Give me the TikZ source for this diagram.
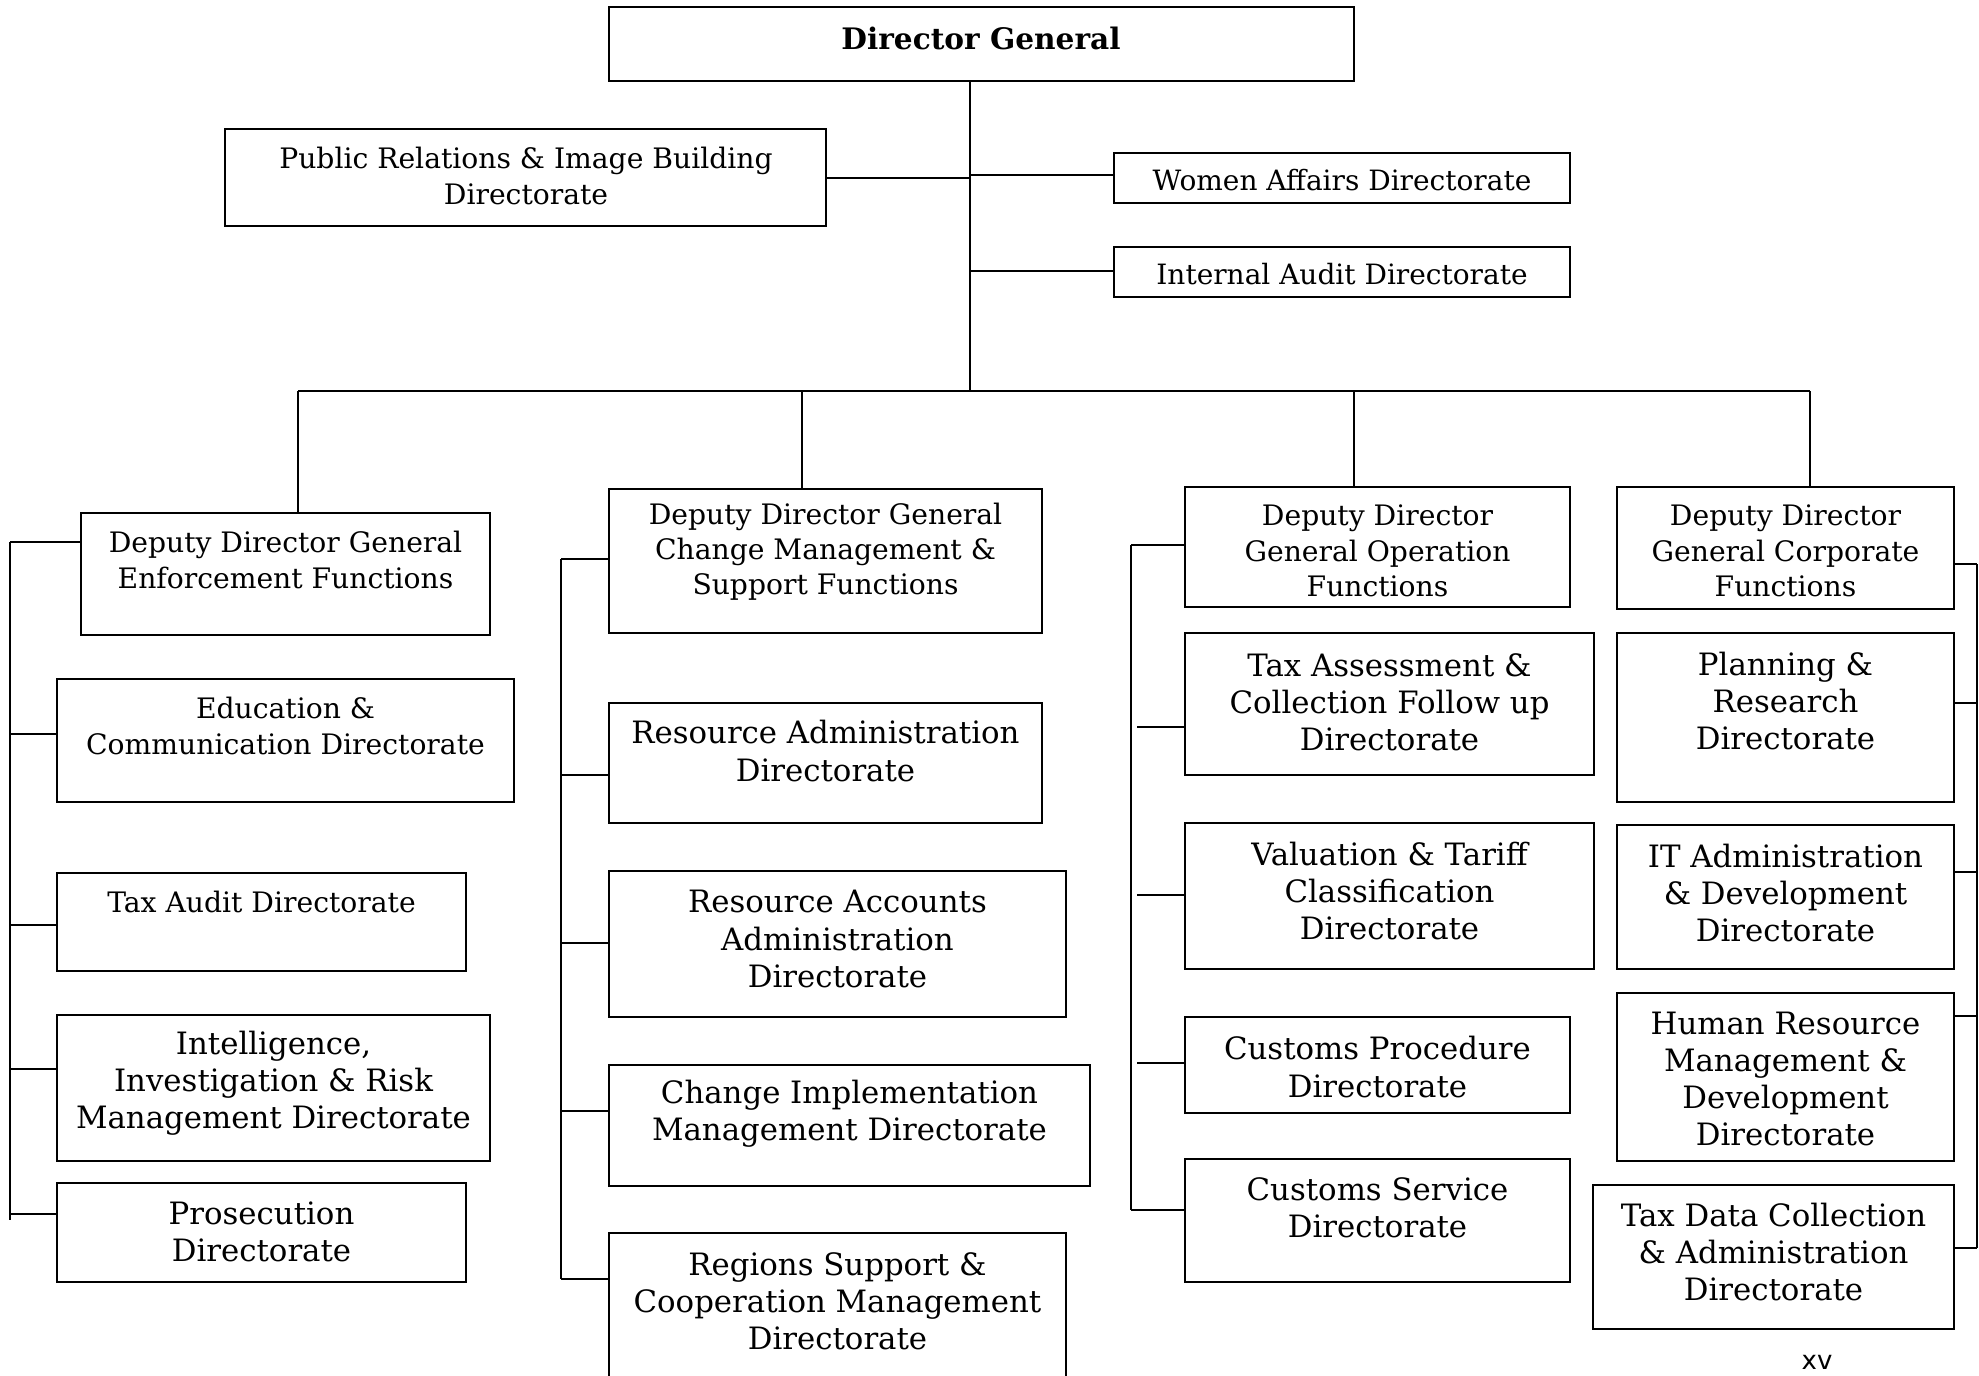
\documentclass[tikz,border=0pt]{standalone}
\usepackage{fontspec}
\setmainfont{DejaVu Serif}
\newfontfamily\pagenumfont{DejaVu Sans}
\usepackage{tikz}

\tikzset{
  unit/.style={draw, line width=0.9pt, inner sep=0pt},
  small/.style={align=center, inner sep=0pt, font=\fontsize{14.1}{17.6}\selectfont},
  large/.style={align=center, inner sep=0pt, font=\fontsize{15.4}{18.6}\selectfont},
  link/.style={line width=0.8pt}
}

\begin{document}
\begin{tikzpicture}[x=0.5pt, y=-0.5pt]
\useasboundingbox (0,0) rectangle (1979,1375);

% top level
\node[unit, minimum width=372.5pt, minimum height=37pt] (dg) at (981.5,44) {};
\node[small, font=\fontsize{14.8}{17.5}\selectfont\bfseries] (dg-t) at (981,38) {Director General};
\node[unit, minimum width=300.5pt, minimum height=48.5pt] (pr) at (525.5,177.5) {};
\node[small] (pr-t) at (526,176) {Public Relations \& Image Building\\Directorate};
\node[unit, minimum width=228pt, minimum height=25pt] (wa) at (1342,178) {};
\node[small, font=\fontsize{14}{17.5}\selectfont] (wa-t) at (1342,180) {Women Affairs Directorate};
\node[unit, minimum width=228pt, minimum height=25pt] (ia) at (1342,272) {};
\node[small, font=\fontsize{14}{17.5}\selectfont] (ia-t) at (1342,274) {Internal Audit Directorate};

% enforcement
\node[unit, minimum width=204.5pt, minimum height=61pt] (ddge) at (285.5,574) {};
\node[small] (ddge-t) at (285.5,560) {Deputy Director General\\Enforcement Functions};
\node[unit, minimum width=228.5pt, minimum height=61.5pt] (ed) at (285.5,740.5) {};
\node[small] (ed-t) at (285.5,726) {Education \&\\Communication Directorate};
\node[unit, minimum width=204.5pt, minimum height=49pt] (ta) at (261.5,922) {};
\node[small] (ta-t) at (261.5,902) {Tax Audit Directorate};
\node[unit, minimum width=216.5pt, minimum height=73pt] (iir) at (273.5,1088) {};
\node[large] (iir-t) at (273.5,1083) {Intelligence,\\Investigation \& Risk\\Management Directorate};
\node[unit, minimum width=204.5pt, minimum height=49.5pt] (pros) at (261.5,1232.5) {};
\node[large] (pros-t) at (261.5,1232) {Prosecution\\Directorate};

% change management
\node[unit, minimum width=216.5pt, minimum height=72pt] (ddgc) at (825.5,561) {};
\node[small] (ddgc-t) at (825.5,552) {Deputy Director General\\Change Management \&\\Support Functions};
\node[unit, minimum width=216.5pt, minimum height=60pt] (ra) at (825.5,763) {};
\node[large] (ra-t) at (825.5,751) {Resource Administration\\Directorate};
\node[unit, minimum width=228.5pt, minimum height=73pt] (raa) at (837.5,944) {};
\node[large] (raa-t) at (837.5,939) {Resource Accounts\\Administration\\Directorate};
\node[unit, minimum width=240.5pt, minimum height=60.5pt] (cim) at (849.5,1125.5) {};
\node[large] (cim-t) at (849.5,1114) {Change Implementation\\Management Directorate};
\node[unit, minimum width=228.5pt, minimum height=73.5pt] (rsc) at (837.5,1306.5) {};
\node[large] (rsc-t) at (837.5,1301) {Regions Support \&\\Cooperation Management\\Directorate};

% operation
\node[unit, minimum width=192.5pt, minimum height=60pt] (ddgo) at (1377.5,547) {};
\node[small] (ddgo-t) at (1377.5,551) {Deputy Director\\General Operation\\Functions};
\node[unit, minimum width=204.5pt, minimum height=71pt] (tacf) at (1389.5,704) {};
\node[large] (tacf-t) at (1389.5,702) {Tax Assessment \&\\Collection Follow up\\Directorate};
\node[unit, minimum width=204.5pt, minimum height=73pt] (vtc) at (1389.5,896) {};
\node[large] (vtc-t) at (1389.5,891) {Valuation \& Tariff\\Classification\\Directorate};
\node[unit, minimum width=192.5pt, minimum height=48pt] (cp) at (1377.5,1065) {};
\node[large] (cp-t) at (1377.5,1067) {Customs Procedure\\Directorate};
\node[unit, minimum width=192.5pt, minimum height=61.5pt] (cs) at (1377.5,1220.5) {};
\node[large] (cs-t) at (1377.5,1208) {Customs Service\\Directorate};

% corporate
\node[unit, minimum width=168.5pt, minimum height=61pt] (ddgk) at (1785.5,548) {};
\node[small] (ddgk-t) at (1785.5,551) {Deputy Director\\General Corporate\\Functions};
\node[unit, minimum width=168.5pt, minimum height=84.5pt] (prr) at (1785.5,717.5) {};
\node[large] (prr-t) at (1785.5,701) {Planning \&\\Research\\Directorate};
\node[unit, minimum width=168.5pt, minimum height=72pt] (itad) at (1785.5,897) {};
\node[large] (itad-t) at (1785.5,893) {IT Administration\\\& Development\\Directorate};
\node[unit, minimum width=168.5pt, minimum height=84pt] (hrmd) at (1785.5,1077) {};
\node[large] (hrmd-t) at (1785.5,1079) {Human Resource\\Management \&\\Development\\Directorate};
\node[unit, minimum width=180.5pt, minimum height=72pt] (tdc) at (1773.5,1257) {};
\node[large] (tdc-t) at (1773.5,1252) {Tax Data Collection\\\& Administration\\Directorate};

\node[font=\pagenumfont\fontsize{13}{15}\selectfont, inner sep=0pt] (pg) at (1817,1362) {xv};

% trunk and bus
\coordinate (hub) at (970,391);
\coordinate (prj) at (970,178);
\coordinate (waj) at (970,175);
\coordinate (iaj) at (970,271);
\coordinate (b1) at (298,391);
\coordinate (b2) at (802,391);
\coordinate (b3) at (1354,391);
\coordinate (b4) at (1810,391);
\draw[link] (hub |- dg.south) -- (hub);
\draw[link] (pr.east |- prj) -- (prj);
\draw[link] (waj) -- (waj -| wa.west);
\draw[link] (iaj) -- (iaj -| ia.west);
\draw[link] (b1) -- (b4);
\foreach \c/\b in {b1/ddge, b2/ddgc, b3/ddgo, b4/ddgk}
  \draw[link] (\c) -- (\c |- \b.north);

% enforcement spine
\coordinate (e1) at (10,542);
\coordinate (e2) at (10,734);
\coordinate (e3) at (10,925);
\coordinate (e4) at (10,1069);
\coordinate (e5) at (10,1214);
\draw[link] (e1) -- (10,1220);
\foreach \c/\b in {e1/ddge, e2/ed, e3/ta, e4/iir, e5/pros}
  \draw[link] (\c) -- (\c -| \b.west);

% change management spine
\coordinate (c1) at (561,559);
\coordinate (c2) at (561,775);
\coordinate (c3) at (561,943);
\coordinate (c4) at (561,1111);
\coordinate (c5) at (561,1279);
\draw[link] (c1) -- (c5);
\foreach \c/\b in {c1/ddgc, c2/ra, c3/raa, c4/cim, c5/rsc}
  \draw[link] (\c) -- (\c -| \b.west);

% operation spine
\coordinate (o1) at (1131,545);
\coordinate (o2) at (1137,727);
\coordinate (o3) at (1137,895);
\coordinate (o4) at (1137,1063);
\coordinate (o5) at (1131,1210);
\draw[link] (o1) -- (o5);
\foreach \c/\b in {o1/ddgo, o2/tacf, o3/vtc, o4/cp, o5/cs}
  \draw[link] (\c) -- (\c -| \b.west);

% corporate spine
\coordinate (k1) at (1977,564);
\coordinate (k2) at (1977,703);
\coordinate (k3) at (1977,872);
\coordinate (k4) at (1977,1016);
\coordinate (k5) at (1977,1248);
\draw[link] (k1) -- (k5);
\foreach \c/\b in {k1/ddgk, k2/prr, k3/itad, k4/hrmd, k5/tdc}
  \draw[link] (\c) -- (\c -| \b.east);
\end{tikzpicture}
\end{document}
